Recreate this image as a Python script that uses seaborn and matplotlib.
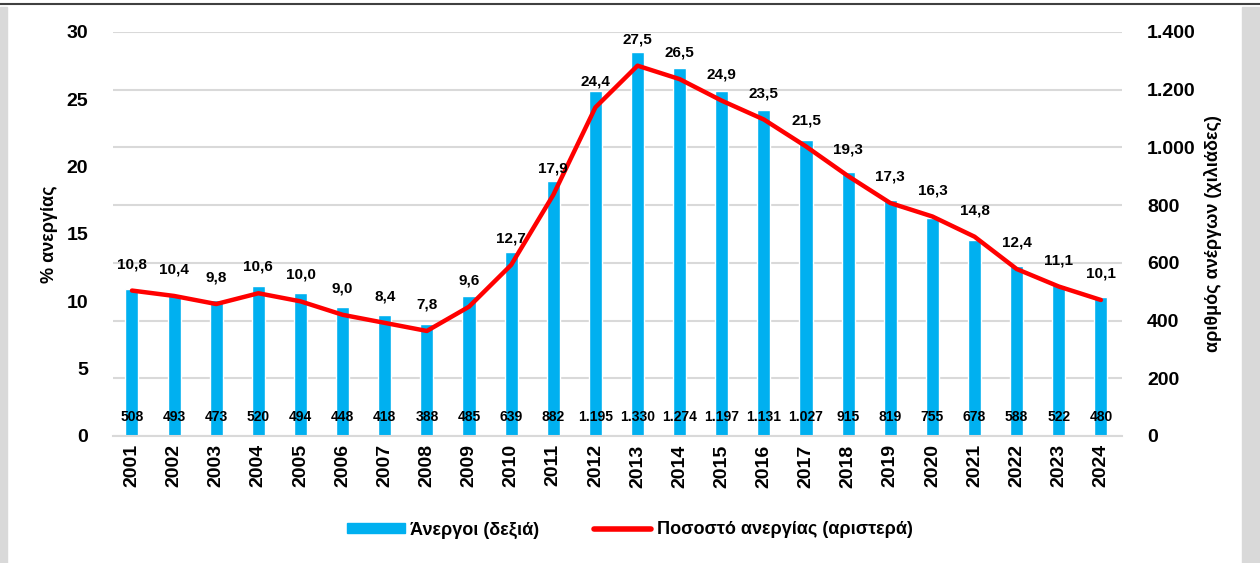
import pandas as pd
import seaborn as sns
import matplotlib.pyplot as plt
from matplotlib.patches import Rectangle, Patch
from matplotlib.lines import Line2D
from matplotlib.ticker import FuncFormatter

years = [str(y) for y in range(2001, 2025)]
rate = [10.8, 10.4, 9.8, 10.6, 10.0, 9.0, 8.4, 7.8, 9.6, 12.7, 17.9, 24.4,
        27.5, 26.5, 24.9, 23.5, 21.5, 19.3, 17.3, 16.3, 14.8, 12.4, 11.1, 10.1]
unemployed = [508, 493, 473, 520, 494, 448, 418, 388, 485, 639, 882, 1195,
              1330, 1274, 1197, 1131, 1027, 915, 819, 755, 678, 588, 522, 480]

df = pd.DataFrame({'year': years, 'rate': rate, 'unemployed': unemployed})
df['pos'] = range(len(df))

sns.set_style('white')
plt.rcParams['font.family'] = ['Liberation Sans', 'DejaVu Sans']
plt.rcParams['font.weight'] = 'bold'
for k in ('text.color', 'axes.labelcolor', 'xtick.color', 'ytick.color'):
    plt.rcParams[k] = 'black'

bar_color = '#00b0f0'
line_color = '#ff0000'
grid_color = '#d9d9d9'

fig = plt.figure(figsize=(12.6, 5.63), dpi=100)
fig.patch.set_facecolor('white')
# grey frame strips like the screenshot
fig.patches.append(Rectangle((0, 0), 7 / 1260, 556 / 563, transform=fig.transFigure,
                             color='#d9d9d9', zorder=-1))
fig.patches.append(Rectangle((1242 / 1260, 0), 18 / 1260, 556 / 563, transform=fig.transFigure,
                             color='#d9d9d9', zorder=-1))
fig.add_artist(Line2D([0, 1], [559 / 563, 559 / 563], transform=fig.transFigure,
                      color='#404040', lw=1.5))

ax = fig.add_axes([113 / 1260, 1 - 436 / 563, (1122 - 113) / 1260, (436 - 32) / 563])
ax2 = ax.twinx()

# bars: unemployed (right axis, drawn on base axes so the line sits on top)
sns.barplot(data=df, x='year', y='unemployed', color=bar_color, width=0.31,
            saturation=1, ax=ax, zorder=2)
ax.set_ylim(0, 1400)
ax.set_yticks(range(0, 1401, 200))
ax.yaxis.set_major_formatter(FuncFormatter(lambda v, p: f"{int(v):,}".replace(',', '.')))
ax.yaxis.tick_right()
ax.yaxis.set_label_position('right')
ax.set_ylabel('αριθμός ανέργων (χιλιάδες)', fontsize=13, fontweight='bold', labelpad=6)
ax.grid(axis='y', color=grid_color, lw=1.5, zorder=0)
ax.set_axisbelow(True)

for i, v in enumerate(unemployed):
    ax.annotate(f"{v:,}".replace(',', '.'), (i, 0), xytext=(0, 14), textcoords='offset points',
                ha='center', va='center', fontsize=10, fontweight='bold', zorder=5)

# line: rate (left axis)
sns.lineplot(data=df, x='pos', y='rate', color=line_color, lw=3.2, ax=ax2,
             solid_joinstyle='round', solid_capstyle='round')
ax2.set_ylim(0, 30)
ax2.set_yticks(range(0, 31, 5))
ax2.yaxis.tick_left()
ax2.yaxis.set_label_position('left')
ax2.set_ylabel('% ανεργίας', fontsize=13, fontweight='bold', labelpad=6)
for i, r in enumerate(rate):
    ax2.annotate(f"{r:.1f}".replace('.', ','), (i, r), xytext=(0, 19), textcoords='offset points',
                 ha='center', va='center', fontsize=11, fontweight='bold')

ax.set_xlim(-0.45, 23.5)
ax2.set_xlim(-0.45, 23.5)
ax.set_xlabel('')
ax2.set_xlabel('')

for a in (ax, ax2):
    for s in a.spines.values():
        s.set_visible(False)
    a.tick_params(length=0, labelsize=14)
    for lab in a.get_yticklabels():
        lab.set_fontweight('bold')
ax.spines['bottom'].set_visible(True)
ax.spines['bottom'].set_color(grid_color)
ax.spines['bottom'].set_linewidth(1.5)
ax.tick_params(axis='y', pad=18)
ax2.tick_params(axis='y', pad=18)
ax.tick_params(axis='x', pad=6)
ax.set_xticks(range(len(years)))
ax.set_xticklabels(years, rotation=90, fontsize=14, fontweight='bold')

handles = [Patch(color=bar_color), Line2D([0], [0], color=line_color, lw=4, solid_capstyle='round')]
labels = ['Άνεργοι (δεξιά)', 'Ποσοστό ανεργίας (αριστερά)']
fig.legend(handles, labels, loc='center', bbox_to_anchor=(0.5, 1 - 530 / 563), ncol=2,
           frameon=False, prop={'weight': 'bold', 'size': 13}, handlelength=3.2,
           handleheight=0.5, columnspacing=3, handletextpad=0.3)

fig.savefig('out.png', dpi=100)
